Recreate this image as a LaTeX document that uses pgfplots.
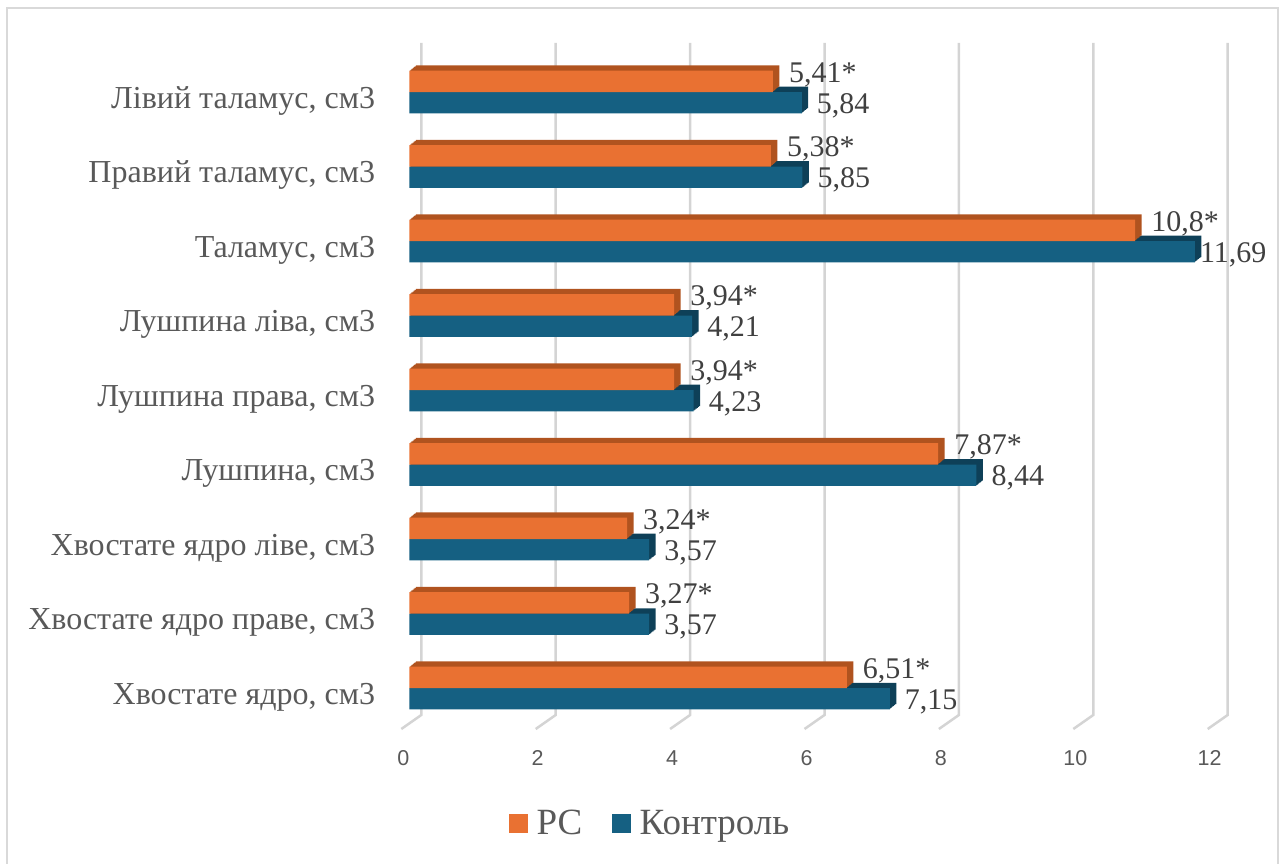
\documentclass[border=0pt]{standalone}
\usepackage{fontspec}
\setmainfont{Liberation Serif}
\newfontfamily\ticksans{Liberation Sans}
\usepackage{pgfplots}
\usepackage{pgfplotstable}
\pgfplotsset{compat=1.18}

\definecolor{pcfront}{HTML}{E97132}
\definecolor{pcdark}{HTML}{B0531F}
\definecolor{ctfront}{HTML}{156082}
\definecolor{ctdark}{HTML}{0E4058}
\definecolor{gridgray}{HTML}{D4D4D4}
\definecolor{framegray}{HTML}{D9D9D9}
\definecolor{labgray}{HTML}{595959}
\definecolor{valgray}{HTML}{404040}

% y: 0 = bottom category, 8 = top category
\pgfplotstableread{
y x lbl
0 6.51 6,51*
1 3.27 3,27*
2 3.24 3,24*
3 7.87 7,87*
4 3.94 3,94*
5 3.94 3,94*
6 10.8 10,8*
7 5.38 5,38*
8 5.41 5,41*
}\pcdata

% the longest label is pulled back so it stays inside the frame
\pgfplotstableread{
y x lbl
0 7.15 7,15
1 3.57 3,57
2 3.57 3,57
3 8.44 8,44
4 4.23 4,23
5 4.21 4,21
6 11.69 \kern-10pt11,69
7 5.85 5,85
8 5.84 5,84
}\ctdata

\begin{document}
\begin{tikzpicture}
\path[use as bounding box] (0,0) rectangle (1280pt,863pt);
\draw[framegray, line width=2pt] (7pt,-2pt) -- (7pt,855pt) -- (1277.7pt,855pt) -- (1277.7pt,-2pt);
\begin{axis}[
  scale only axis,
  width=806.4pt, height=672pt,
  at={(409.3pt,148pt)}, anchor=south west,
  xmin=0, xmax=12, ymin=-0.362, ymax=8.658,
  xbar, bar width=21.3pt,
  clip=false,
  axis line style={draw=none},
  major tick length=0pt,
  xtick={0,2,...,12},
  ytick={0,...,8},
  yticklabels={{Хвостате ядро, см3},{Хвостате ядро праве, см3},{Хвостате ядро ліве, см3},{Лушпина, см3},{Лушпина права, см3},{Лушпина ліва, см3},{Таламус, см3},{Правий таламус, см3},{Лівий таламус, см3}},
  /pgf/number format/assume math mode=true,
  xticklabel style={anchor=center, yshift=-43pt, xshift=-6pt, font=\ticksans\fontsize{21.5}{24}\selectfont, text=labgray},
  yticklabel style={anchor=base east, xshift=-34pt, yshift=-16pt, inner sep=0pt, font=\fontsize{32}{38}\selectfont, text=labgray},
  legend style={at={(0.1236,-0.1607)}, anchor=west, draw=none, fill=none,
    legend columns=2, inner sep=0pt,
    font=\fontsize{37}{40}\selectfont, text=labgray,
    nodes={inner sep=0pt},
    /tikz/every odd column/.append style={column sep=9pt},
    /tikz/every even column/.append style={column sep=30pt}},
]
% back-wall grid lines with their floor segments
\pgfplotsinvokeforeach{0,2,...,12}{
  \draw[gridgray, line width=2.5pt]
    ([xshift=12pt]axis cs:#1,8.658) -- ([xshift=12pt]axis cs:#1,-0.362) -- ++(-20pt,-14pt);
}

% Контроль: extruded depth, then front face
\pgfplotsinvokeforeach{1,...,6}{
  \addplot[forget plot, draw=none, fill=ctdark, bar shift=-10.65pt,
    xshift=#1*1.08pt, yshift=#1*0.88pt] table[x=x,y=y] {\ctdata};
}
\addplot[forget plot, draw=none, fill=ctfront, bar shift=-10.65pt,
  nodes near coords, point meta=explicit symbolic,
  every node near coord/.append style={anchor=base west, xshift=15pt, yshift=-10.5pt,
    inner sep=0pt, font=\fontsize{30}{36}\selectfont, text=valgray}]
  table[x=x,y=y,meta=lbl] {\ctdata};

% РС: extruded depth, then front face
\pgfplotsinvokeforeach{1,...,6}{
  \addplot[forget plot, draw=none, fill=pcdark, bar shift=10.65pt,
    xshift=#1*1.08pt, yshift=#1*0.88pt] table[x=x,y=y] {\pcdata};
}
\addplot[forget plot, draw=none, fill=pcfront, bar shift=10.65pt,
  nodes near coords, point meta=explicit symbolic,
  every node near coord/.append style={anchor=base west, xshift=16pt, yshift=-1pt,
    inner sep=0pt, font=\fontsize{30}{36}\selectfont, text=valgray}]
  table[x=x,y=y,meta=lbl] {\pcdata};

\addlegendimage{legend image code/.code={\fill[pcfront] (0pt,-9pt) rectangle (18pt,9pt);}}
\addlegendentry{РС}
\addlegendimage{legend image code/.code={\fill[ctfront] (0pt,-9pt) rectangle (18pt,9pt);}}
\addlegendentry{Контроль}
\end{axis}
\end{tikzpicture}
\end{document}
